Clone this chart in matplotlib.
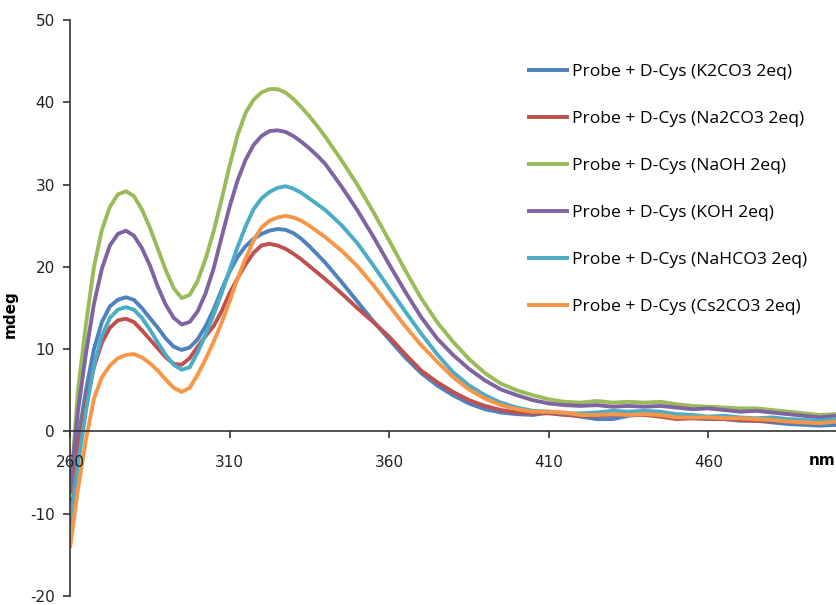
import numpy as np
import matplotlib.pyplot as plt

plt.rcParams['axes.unicode_minus'] = False

# wavelength grid (nm): 2.5 nm steps up to 340, then 5 nm
wl = [260, 262.5, 265, 267.5, 270, 272.5, 275, 277.5, 280, 282.5, 285, 287.5,
      290, 292.5, 295, 297.5, 300, 302.5, 305, 307.5, 310, 312.5, 315, 317.5,
      320, 322.5, 325, 327.5, 330, 332.5, 335, 337.5, 340,
      345, 350, 355, 360, 365, 370, 375, 380, 385, 390, 395, 400, 405, 410,
      415, 420, 425, 430, 435, 440, 445, 450, 455, 460, 465, 470, 475, 480,
      485, 490, 495, 500]

k2co3 = [-9.0, -1.0, 5.0, 10.0, 13.3, 15.2, 16.0, 16.3, 16.0, 15.0, 13.8, 12.6,
         11.3, 10.3, 9.9, 10.2, 11.2, 12.8, 14.8, 17.2, 19.4, 21.2, 22.5, 23.4,
         24.0, 24.4, 24.6, 24.5, 24.1, 23.4, 22.5, 21.5, 20.5,
         18.2, 15.8, 13.4, 11.2, 9.0, 7.1, 5.6, 4.4, 3.4, 2.7, 2.3, 2.1, 2.0, 2.3,
         2.1, 1.8, 1.5, 1.5, 1.9, 2.1, 2.0, 1.8, 1.6, 1.5, 1.5, 1.3, 1.3, 1.1,
         0.9, 0.8, 0.7, 0.8]

na2co3 = [-9.0, -2.0, 3.5, 7.8, 10.8, 12.6, 13.5, 13.7, 13.3, 12.3, 11.2, 10.1,
          9.0, 8.2, 8.1, 8.9, 10.3, 11.6, 12.8, 14.6, 16.8, 18.6, 20.3, 21.7,
          22.6, 22.8, 22.6, 22.2, 21.6, 20.9, 20.1, 19.3, 18.5,
          16.8, 15.0, 13.3, 11.5, 9.4, 7.4, 6.0, 4.8, 3.8, 3.1, 2.6, 2.3, 2.2, 2.2,
          2.0, 1.9, 1.9, 2.0, 2.1, 2.0, 1.8, 1.5, 1.6, 1.6, 1.5, 1.4, 1.3, 1.3,
          1.2, 1.1, 1.2, 1.3]

naoh = [-8.0, 5.0, 13.0, 20.0, 24.5, 27.3, 28.8, 29.2, 28.6, 27.0, 24.8, 22.2,
        19.6, 17.4, 16.2, 16.6, 18.3, 21.0, 24.3, 28.2, 32.3, 36.0, 38.7, 40.3,
        41.2, 41.6, 41.6, 41.2, 40.4, 39.4, 38.3, 37.1, 35.8,
        33.0, 30.0, 26.7, 23.2, 19.6, 16.2, 13.3, 10.9, 8.8, 7.1, 5.8, 5.0, 4.4, 3.9,
        3.6, 3.5, 3.7, 3.5, 3.6, 3.5, 3.6, 3.3, 3.1, 3.0, 2.9, 2.8, 2.8, 2.6,
        2.4, 2.2, 2.0, 2.1]

koh = [-7.5, 2.5, 9.5, 15.5, 19.8, 22.6, 24.0, 24.4, 23.8, 22.3, 20.2, 17.6,
       15.4, 13.8, 13.0, 13.3, 14.6, 16.8, 19.8, 23.6, 27.3, 30.5, 33.0, 34.8,
       35.9, 36.5, 36.6, 36.4, 35.9, 35.2, 34.4, 33.5, 32.5,
       29.8, 26.9, 23.7, 20.3, 17.0, 13.9, 11.3, 9.3, 7.6, 6.2, 5.1, 4.4, 3.8, 3.4,
       3.2, 3.1, 3.2, 3.0, 3.1, 3.0, 3.1, 2.9, 2.7, 2.8, 2.6, 2.4, 2.5, 2.3,
       2.1, 1.9, 1.7, 1.9]

nahco3 = [-12.0, -4.0, 2.5, 8.0, 11.6, 13.8, 14.8, 15.1, 14.8, 13.8, 12.4, 10.8,
          9.3, 8.1, 7.5, 7.8, 9.6, 11.8, 14.2, 16.8, 19.6, 22.4, 24.9, 27.0,
          28.3, 29.1, 29.6, 29.8, 29.5, 29.0, 28.3, 27.6, 26.9,
          25.1, 22.9, 20.2, 17.4, 14.6, 11.9, 9.4, 7.2, 5.6, 4.4, 3.5, 2.9, 2.5, 2.4,
          2.2, 2.2, 2.3, 2.5, 2.4, 2.5, 2.4, 2.1, 2.0, 1.8, 1.9, 1.7, 1.6, 1.7,
          1.5, 1.4, 1.3, 1.5]

cs2co3 = [-14.2, -7.0, -1.0, 4.0, 6.6, 8.0, 8.9, 9.3, 9.4, 9.0, 8.3, 7.4,
          6.3, 5.3, 4.8, 5.3, 6.9, 8.8, 10.9, 13.2, 15.8, 18.6, 21.0, 23.2,
          24.8, 25.6, 26.0, 26.2, 26.0, 25.6, 25.0, 24.3, 23.6,
          22.0, 20.1, 17.8, 15.3, 12.8, 10.5, 8.5, 6.6, 5.1, 4.0, 3.2, 2.7, 2.4, 2.4,
          2.3, 2.0, 2.0, 2.1, 2.0, 2.1, 2.0, 1.7, 1.7, 1.7, 1.6, 1.6, 1.5, 1.4,
          1.2, 1.1, 1.0, 1.2]

labels = ["Probe + D-Cys (K2CO3 2eq)", "Probe + D-Cys (Na2CO3 2eq)",
          "Probe + D-Cys (NaOH 2eq)", "Probe + D-Cys (KOH 2eq)",
          "Probe + D-Cys (NaHCO3 2eq)", "Probe + D-Cys (Cs2CO3 2eq)"]
series = [k2co3, na2co3, naoh, koh, nahco3, cs2co3]
colors = ["#4F81BD", "#C0504D", "#9BBB59", "#8064A2", "#4BACC6", "#F79646"]

fig = plt.figure(figsize=(8.36, 6.05), dpi=100)
ax = fig.add_axes([70/836, 9/605, 766/836, 576/605])

for ys, lab, c in zip(series, labels, colors):
    ax.plot(wl, ys, color=c, lw=2.8, label=lab, solid_joinstyle='round',
            solid_capstyle='butt', zorder=1)

ax.set_xlim(260, 500)
ax.set_ylim(-20, 50)
ax.set_xticks([260, 310, 360, 410, 460])
ax.set_yticks(range(-20, 51, 10))

for s in ['top', 'right']:
    ax.spines[s].set_visible(False)
ax.spines['bottom'].set_position(('data', 0))
for s in ['left', 'bottom']:
    ax.spines[s].set_color('#333333')
    ax.spines[s].set_linewidth(1.2)
ax.tick_params(axis='y', direction='out', length=5, width=1.2, color='#333333',
               labelsize=11, pad=6, labelcolor='#222222')
ax.tick_params(axis='x', direction='out', length=5, width=1.2, color='#333333',
               labelsize=11, pad=12, labelcolor='#222222')

ax.set_ylabel("mdeg", fontsize=11, fontweight='bold')
ax.yaxis.set_label_coords(-0.068, 0.49)
ax.text(495.8, -3.5, "nm", fontsize=11, fontweight='bold', ha='center', va='center')

leg = ax.legend(loc='upper left', bbox_to_anchor=(0.597, 0.924), frameon=False,
                handlelength=2.4, handletextpad=0.17,
                labelspacing=1.76, borderpad=0, borderaxespad=0,
                prop={'family': 'Open Sans', 'size': 12.6})

fig.savefig("out.png", dpi=100)
